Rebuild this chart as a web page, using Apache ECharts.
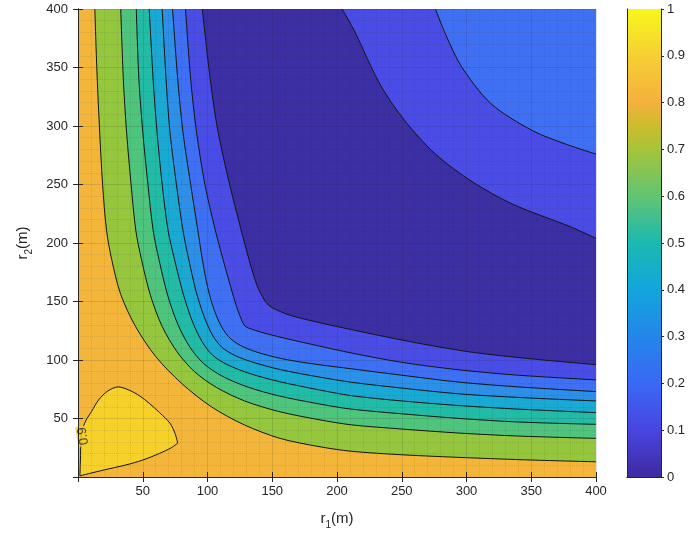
<!DOCTYPE html>
<html>
<head>
<meta charset="utf-8">
<script src="https://cdn.jsdelivr.net/npm/echarts/dist/echarts.min.js"></script>
<style>
  html, body { margin: 0; padding: 0; background: #fff; }
  #chart { width: 690px; height: 541px; }
</style>
</head>
<body>
<div id="chart"></div>
<script>
// contour lines, [r1, r2] in metres
const contour08 = [[13,400],[14.5,350],[16.5,300],[19,250],[22,211],[26,186],[33,156],[44.5,128.5],[60,103],[80,80],[103,60],[128.5,44.5],[156,33],[186,26],[211,22],[250,19],[300,16.5],[350,14.5],[400,13]];
const contour07 = [[33,400],[35,340],[37.5,295],[41,250],[44.6,211],[49,186],[56,155],[65,128.7],[76.5,107],[90,90],[107,76.5],[128.7,65],[155,56],[186,49],[211,44.6],[250,41],[295,37.5],[340,35],[400,33]];
const contour06 = [[45,400],[47,340],[50,295],[54,250],[58,211],[62.5,186],[69.2,155.5],[77.1,130.5],[86.4,111],[97,97],[111,86.4],[130.5,77.1],[155.5,69.2],[186,62.5],[211,58],[250,54],[295,50],[340,47],[400,45]];
const contour05 = [[55,400],[58,340],[61,295],[65,250],[69.5,211],[74.5,186],[81.3,156.3],[88.4,132.7],[96,115.3],[104,104],[115.3,96],[132.7,88.4],[156.3,81.3],[186,74.5],[211,69.5],[250,65],[295,61],[340,58],[400,55]];
const contour04 = [[65,400],[68,340],[71,295],[76,250],[81,211],[85.5,186],[91.2,158.6],[97.4,137],[103.9,121.1],[111,111],[121.1,103.9],[137,97.4],[158.6,91.2],[186,85.5],[211,81],[250,76],[295,71],[340,68],[400,65]];
const contour03 = [[73,400],[77,340],[81,295],[87,250],[92.5,211],[96,186],[100.2,161.7],[105.3,142.3],[111.2,127.7],[118,118],[127.7,111.2],[142.3,105.3],[161.7,100.2],[186,96],[211,92.5],[250,87],[295,81],[340,77],[400,73]];
const contour02 = [[83,400],[87,340],[91.5,295],[98,250],[106,211],[112,186],[117.8,162.8],[122.5,145.5],[126.3,134.3],[129,129],[134.3,126.3],[145.5,122.5],[162.8,117.8],[186,112],[211,106],[250,98],[295,91.5],[340,87],[400,83]];
const contour01 = [[96,400],[101,350],[107,302],[116,255],[126,211],[132,186],[135.8,171.7],[139.5,160.5],[147,147],[160.5,139.5],[171.7,135.8],[186,132],[211,126],[255,116],[302,107],[350,101],[400,96]];
const contour01Far = [[204,400],[214,380],[233,336],[252,305],[276,276],[305,252],[336,233],[380,214],[400,204]];
const contour02Far = [[276,400],[284,378],[296,351],[319,319],[351,296],[378,284],[400,276]];
// closed 0.9 contour near the origin, split into upper and lower edges
const peakUpper = [[1.5,1],[1.8,12],[2.8,38],[6,48],[10.5,56],[16,66],[23,73.5],[31,77],[40,74],[48,69],[55,63],[63,55],[71,46],[75,37],[77,29]];
const peakLower = [[1.5,1],[20,6],[37,10.3],[50,14.5],[63,20.2],[72,25],[77,29]];
const peakLabel = [[4,35]];

const rTicks = [50, 100, 150, 200, 250, 300, 350, 400];
const cbarTicks = [0, 0.1, 0.2, 0.3, 0.4, 0.5, 0.6, 0.7, 0.8, 0.9, 1];

const bandColor = {
  c09: '#f6d12c', c08: '#f3b63a', c07: '#94c63e', c06: '#4fc47d', c05: '#22bca6',
  c04: '#1aa9d3', c03: '#2c90e8', c02: '#3f70f4', c01: '#4a4ce6', c00: '#3c2ea3'
};
const parula = [
  [0, '#3d2aa0'], [0.1, '#4845e0'], [0.2, '#3a68f5'], [0.3, '#2486ea'], [0.4, '#12a5dc'],
  [0.5, '#1bb9b0'], [0.6, '#61c472'], [0.7, '#a6c43a'], [0.75, '#cbbd2d'], [0.8, '#f5b03e'],
  [0.9, '#f6cf33'], [1, '#f7f81a']
];

const txt = '#262626';
const font = 'Liberation Sans, Arial, Helvetica, sans-serif';

function bandSeries(line, color, origin) {
  return {
    type: 'line', xAxisIndex: 0, yAxisIndex: 0,
    data: line, smooth: 0.3, symbol: 'none', silent: true,
    lineStyle: { color: '#141414', width: 1 },
    areaStyle: { origin: origin, color: color, opacity: 1 }
  };
}

const chart = echarts.init(document.getElementById('chart'));

const edgeAxis = {
  min: 0, max: 400, interval: 50, z: 10,
  axisLine: { show: true, lineStyle: { color: txt, width: 1 } },
  axisTick: { show: true, inside: true, length: 5, lineStyle: { color: txt } },
  axisLabel: { show: false },
  splitLine: { show: false }
};
const subRich = {
  n: { fontSize: 15, color: txt, fontFamily: font },
  s: { fontSize: 10, color: txt, fontFamily: font, padding: [12, 0, 0, 0] }
};

chart.setOption({
  backgroundColor: '#fff',
  animation: false,
  textStyle: { fontFamily: font },
  grid: [
    { left: 78, top: 9, width: 518, height: 468, show: true, backgroundColor: bandColor.c08, borderWidth: 0 },
    { left: 627, top: 9, width: 34, height: 468 }
  ],
  xAxis: [
    {
      type: 'value', gridIndex: 0, position: 'bottom', min: 0, max: 400, interval: 50, z: 10,
      name: '{n|r}{s|1}{n|(m)}', nameLocation: 'middle', nameGap: 31,
      nameTextStyle: { rich: subRich },
      axisLine: { show: true, lineStyle: { color: txt, width: 1 } },
      axisTick: { show: true, inside: true, length: 5, lineStyle: { color: txt } },
      axisLabel: { color: txt, fontSize: 13, margin: 8, formatter: v => rTicks.indexOf(v) >= 0 ? String(v) : '' },
      splitLine: { show: true, lineStyle: { color: 'rgba(30,30,30,0.13)', width: 1 } },
      minorTick: { show: false, splitNumber: 5 },
      minorSplitLine: { show: true, lineStyle: { color: 'rgba(30,30,30,0.12)', type: 'dotted', width: 1 } }
    },
    Object.assign({ type: 'value', gridIndex: 0, position: 'top' }, edgeAxis),
    {
      type: 'category', gridIndex: 1, data: ['cbar'], position: 'bottom', z: 10,
      axisLine: { show: true, lineStyle: { color: txt } }, axisTick: { show: false }, axisLabel: { show: false }
    },
    {
      type: 'category', gridIndex: 1, data: ['cbar'], position: 'top', z: 10,
      axisLine: { show: true, lineStyle: { color: txt } }, axisTick: { show: false }, axisLabel: { show: false }
    }
  ],
  yAxis: [
    {
      type: 'value', gridIndex: 0, position: 'left', min: 0, max: 400, interval: 50, z: 10,
      name: '{n|r}{s|2}{n|(m)}', nameLocation: 'middle', nameGap: 44,
      nameTextStyle: { rich: subRich },
      axisLine: { show: true, lineStyle: { color: txt, width: 1 } },
      axisTick: { show: true, inside: true, length: 5, lineStyle: { color: txt } },
      axisLabel: { color: txt, fontSize: 13, margin: 10, formatter: v => rTicks.indexOf(v) >= 0 ? String(v) : '' },
      splitLine: { show: true, lineStyle: { color: 'rgba(30,30,30,0.13)', width: 1 } },
      minorTick: { show: false, splitNumber: 5 },
      minorSplitLine: { show: true, lineStyle: { color: 'rgba(30,30,30,0.12)', type: 'dotted', width: 1 } }
    },
    Object.assign({ type: 'value', gridIndex: 0, position: 'right' }, edgeAxis),
    {
      type: 'value', gridIndex: 1, position: 'right', min: 0, max: 1, interval: 0.1, z: 10,
      axisLine: { show: true, lineStyle: { color: txt } },
      axisTick: { show: true, length: 3, lineStyle: { color: txt } },
      axisLabel: { color: txt, fontSize: 13, margin: 6, formatter: v => {
        const t = cbarTicks.find(c => Math.abs(c - v) < 1e-6);
        return t === undefined ? '' : String(t);
      } },
      splitLine: { show: false }
    },
    {
      type: 'value', gridIndex: 1, position: 'left', min: 0, max: 1, interval: 0.1, z: 10,
      axisLine: { show: true, lineStyle: { color: txt } },
      axisTick: { show: false }, axisLabel: { show: false }, splitLine: { show: false }
    }
  ],
  series: [
    bandSeries(contour08, bandColor.c07, 'end'),
    bandSeries(contour07, bandColor.c06, 'end'),
    bandSeries(contour06, bandColor.c05, 'end'),
    bandSeries(contour05, bandColor.c04, 'end'),
    bandSeries(contour04, bandColor.c03, 'end'),
    bandSeries(contour03, bandColor.c02, 'end'),
    bandSeries(contour02, bandColor.c01, 'end'),
    bandSeries(contour01, bandColor.c00, 'end'),
    bandSeries(contour01Far, bandColor.c01, 'end'),
    bandSeries(contour02Far, bandColor.c02, 'end'),
    bandSeries(peakUpper, bandColor.c09, 'start'),
    bandSeries(peakLower, bandColor.c08, 'start'),
    {
      type: 'scatter', xAxisIndex: 0, yAxisIndex: 0, data: peakLabel, symbolSize: 0, silent: true, z: 5,
      label: {
        show: true, position: 'inside', formatter: '0.9', rotate: 100,
        color: txt, fontSize: 13, fontFamily: font,
        backgroundColor: bandColor.c09, padding: [0, 1]
      }
    },
    {
      type: 'bar', xAxisIndex: 2, yAxisIndex: 2, data: [1], barWidth: '100%', silent: true,
      itemStyle: {
        color: new echarts.graphic.LinearGradient(0, 1, 0, 0, parula.map(p => ({ offset: p[0], color: p[1] })))
      }
    }
  ]
});
</script>
</body>
</html>
